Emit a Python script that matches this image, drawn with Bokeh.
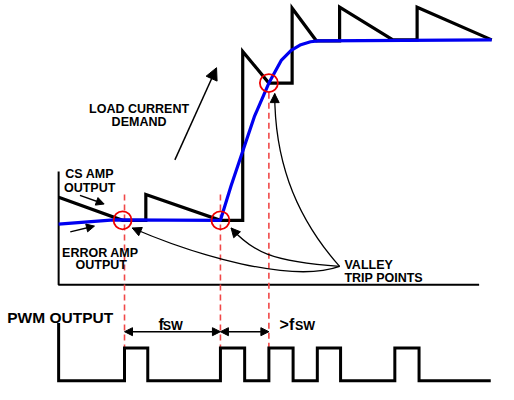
import numpy as np
from bokeh.plotting import figure
from bokeh.models import Range1d, Arrow, NormalHead, ColumnDataSource
from bokeh.core.properties import value
from bokeh.embed import file_html
from bokeh.resources import INLINE

# ---- data (diagram coordinates) ----
# CS amp output (sawtooth)
cs_x = [60, 126, 150, 150, 227, 250, 250, 277, 301, 301, 326, 350, 350, 405, 430, 430, 507]
cs_y = [205, 229, 229, 202, 229, 229, 53, 86, 86, 8, 42, 42, 7, 41, 41, 7, 41]
# Error amp output
ea_x = [60, 117, 227, 238, 250, 262, 277, 290, 300, 310, 320, 328, 507]
ea_y = [233, 228.5, 229, 193, 157, 121, 86, 62, 52, 46, 43, 42, 41]
# valley trip points
trip_x = [126, 227, 277]
trip_y = [229, 229, 86]
# switching instants (dashed markers) and their top ends
sw_x = [128, 227, 277]
sw_top = [202, 202, 96]
# PWM pulses
pwm_rise = [128, 227, 277, 327, 407]
pwm_fall = [152, 252, 302, 351, 432]
pwm_low, pwm_high, pwm_start, pwm_end, pwm_top = 396, 362, 60, 506, 336
# axes of the upper plot
axis_x = [60, 60, 494]
axis_y = [178, 296, 296]

FONT = value("Liberation Sans")

p = figure(width=498, height=384, x_range=Range1d(0, 514), y_range=Range1d(400, 0),
           output_backend="svg", toolbar_location=None, min_border=0,
           x_axis_type=None, y_axis_type=None)
p.grid.visible = False
p.outline_line_color = None

# axes
p.line(axis_x, axis_y, line_color="black", line_width=2)

# red dashed switching lines
for x, t in zip(sw_x, sw_top):
    p.line([x, x], [t, pwm_high], line_color="#f04848", line_width=1.6, line_dash="6 4")

# CS amp sawtooth
p.line(cs_x, cs_y, line_color="black", line_width=3.2, line_join="miter")
# error amp
p.line(ea_x, ea_y, line_color="#0000f0", line_width=3.2, line_join="round")
# trip circles
p.scatter(trip_x, trip_y, marker="circle", size=18, fill_color=None,
          line_color="#ee0000", line_width=1.8)

# PWM waveform
px = [pwm_start, pwm_start]
py = [pwm_top, pwm_low]
for r, f in zip(pwm_rise, pwm_fall):
    px += [r, r, f, f]
    py += [pwm_low, pwm_high, pwm_high, pwm_low]
px.append(pwm_end)
py.append(pwm_low)
p.line(px, py, line_color="black", line_width=3, line_join="miter")

# double arrows for fsw
dim_y = 345
for a, b in [(sw_x[0], sw_x[1]), (sw_x[1], sw_x[2])]:
    p.add_layout(Arrow(x_start=a, y_start=dim_y, x_end=b, y_end=dim_y, line_width=1.5,
                       start=NormalHead(size=8, line_width=1, fill_color="black"),
                       end=NormalHead(size=8, line_width=1, fill_color="black")))

# straight arrows
straight = [((180, 166), (223, 70), 12), ((82, 203), (107, 212), 8), ((72, 241), (97, 235), 8)]
for (x0, y0), (x1, y1), s in straight:
    p.add_layout(Arrow(x_start=x0, y_start=y0, x_end=x1, y_end=y1, line_width=1.5,
                       end=NormalHead(size=s, line_width=1, fill_color="black")))

# curved arrows from VALLEY TRIP POINTS label
src = (350, 277)
curves = [
    ((136, 237), (300, 295), (200, 265)),
    ((238, 237), (280, 272), (260, 262)),
    ((283, 97), (300, 220), (283, 160)),
]
for (ex, ey), (c0x, c0y), (c1x, c1y) in curves:
    p.bezier(x0=[src[0]], y0=[src[1]], x1=[ex], y1=[ey], cx0=[c0x], cy0=[c0y],
             cx1=[c1x], cy1=[c1y], line_color="black", line_width=1.3)
    dx, dy = ex - c1x, ey - c1y
    n = (dx * dx + dy * dy) ** 0.5
    p.add_layout(Arrow(x_start=ex - dx / n * 3, y_start=ey - dy / n * 3, x_end=ex, y_end=ey,
                       line_width=1, end=NormalHead(size=9, line_width=1, fill_color="black")))

# texts
center_txt = ["LOAD CURRENT", "DEMAND", "CS AMP", "OUTPUT", "ERROR AMP", "OUTPUT"]
center_x = [143, 143, 92, 92, 103, 104]
center_y = [113, 127, 181, 195, 263, 276]
p.text(center_x, center_y, text=center_txt, text_font=FONT, text_font_style="bold",
       text_font_size="12.5px", text_align="center", text_baseline="alphabetic", text_color="black")

left_txt = ["VALLEY", "TRIP POINTS"]
left_x = [355, 355]
left_y = [276, 289]
p.text(left_x, left_y, text=left_txt, text_font=FONT, text_font_style="bold",
       text_font_size="12.5px", text_align="left", text_baseline="alphabetic", text_color="black")

p.text([7], [330], text=["PWM OUTPUT"], text_font=FONT, text_font_style="bold",
       text_font_size="15.5px", text_align="left", text_baseline="alphabetic", text_color="black")

big_txt = ["f", ">f"]
big_x = [163, 288]
big_y = [337, 337]
p.text(big_x, big_y, text=big_txt, text_font=FONT, text_font_style="bold",
       text_font_size="16px", text_align="left", text_baseline="alphabetic", text_color="black")
sub_txt = ["SW", "SW"]
sub_x = [167.5, 304]
sub_y = [339, 339]
p.text(sub_x, sub_y, text=sub_txt, text_font=FONT, text_font_style="bold",
       text_font_size="12.5px", text_align="left", text_baseline="alphabetic", text_color="black")

open("out.html", "w").write(file_html(p, INLINE))
